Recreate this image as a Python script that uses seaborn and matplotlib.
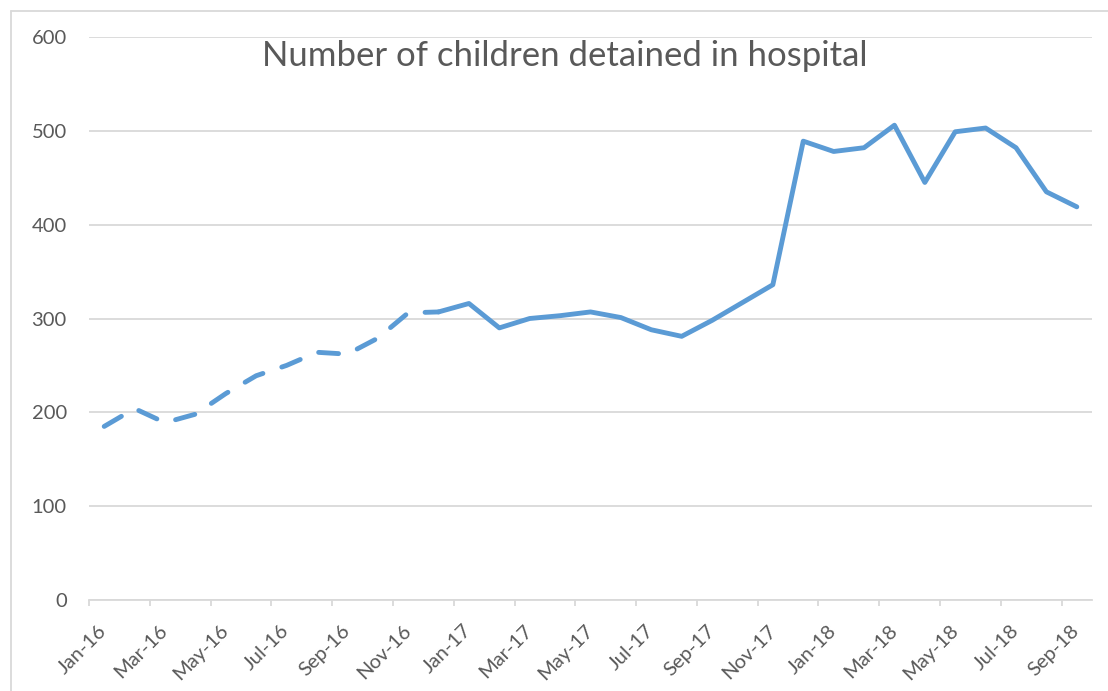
import matplotlib
matplotlib.use("Agg")
import matplotlib.pyplot as plt
import seaborn as sns
import pandas as pd
import numpy as np
from matplotlib.lines import Line2D

# ---- data ----
months = ["Jan-16", "Feb-16", "Mar-16", "Apr-16", "May-16", "Jun-16", "Jul-16", "Aug-16",
          "Sep-16", "Oct-16", "Nov-16", "Dec-16",
          "Jan-17", "Feb-17", "Mar-17", "Apr-17", "May-17", "Jun-17", "Jul-17", "Aug-17",
          "Sep-17", "Oct-17", "Nov-17", "Dec-17",
          "Jan-18", "Feb-18", "Mar-18", "Apr-18", "May-18", "Jun-18", "Jul-18", "Aug-18",
          "Sep-18"]
values = [185, 204, 189, 198, 220, 239, 250, 264, 262, 279, 306, 307,
          316, 290, 300, 303, 307, 301, 288, 281, 298, 317, 336, 489,
          478, 482, 506, 445, 499, 503, 482, 435, 419]
tick_labels = months[::2]
y_ticks = [0, 100, 200, 300, 400, 500, 600]
title = "Number of children detained in hospital"
dashed_until = "Dec-16"

# ---- style ----
sns.set_theme(style="white")
plt.rcParams["font.family"] = ["Lato", "DejaVu Sans"]
blue = "#5b9bd5"
grid_c = "#d9d9d9"
text_c = "#595959"

W, H = 1108, 691
fig = plt.figure(figsize=(W / 100, H / 100), dpi=100)
ax = fig.add_axes([89 / W, 91 / H, 1003 / W, 563 / H])

df = pd.DataFrame({"idx": np.arange(len(months)), "month": months, "value": values})
cut = months.index(dashed_until)
dashed = df.iloc[: cut + 1]
solid = df.iloc[cut:]

sns.lineplot(data=dashed, x="idx", y="value", ax=ax, color=blue, linewidth=3.5,
             linestyle=(0, (4.1, 4.1)), dash_capstyle="round", solid_capstyle="round",
             solid_joinstyle="round")
sns.lineplot(data=solid, x="idx", y="value", ax=ax, color=blue, linewidth=3.5,
             solid_capstyle="round", solid_joinstyle="round")

ax.set_xlim(-0.5, len(months) - 0.5)
ax.set_ylim(0, 600)
ax.set_xlabel("")
ax.set_ylabel("")

ax.set_yticks(y_ticks)
ax.set_yticklabels([str(v) for v in y_ticks])
ax.yaxis.grid(True, color=grid_c, lw=1.3)
ax.xaxis.grid(False)
ax.set_axisbelow(True)

ax.set_xticks(np.arange(0, len(months), 2))
ax.set_xticklabels(tick_labels)
ax.set_xticks(np.arange(-0.5, len(months) - 1, 2), minor=True)

ax.tick_params(axis="y", length=0, pad=16, labelsize=14.5, labelcolor=text_c)
ax.tick_params(axis="x", which="major", length=0, pad=20, labelsize=14.5, labelcolor=text_c)
ax.tick_params(axis="x", which="minor", bottom=True, length=4, width=1.3, color=grid_c)
for lab in ax.get_xticklabels():
    lab.set_rotation(45)
    lab.set_ha("right")
    lab.set_va("center")
    lab.set_rotation_mode("anchor")

for s in ["left", "right", "top"]:
    ax.spines[s].set_visible(False)
ax.spines["bottom"].set_color(grid_c)
ax.spines["bottom"].set_linewidth(1.3)

fig.text(565 / W, 1 - 56 / H, title, ha="center", va="center", fontsize=25, color=text_c)

# chart-area border (left and top)
fig.add_artist(Line2D([11 / W, 11 / W], [0, 1 - 11 / H], transform=fig.transFigure,
                      color=grid_c, lw=1.3))
fig.add_artist(Line2D([11 / W, 1], [1 - 11 / H, 1 - 11 / H], transform=fig.transFigure,
                      color=grid_c, lw=1.3))

fig.savefig("out.png", dpi=100)
